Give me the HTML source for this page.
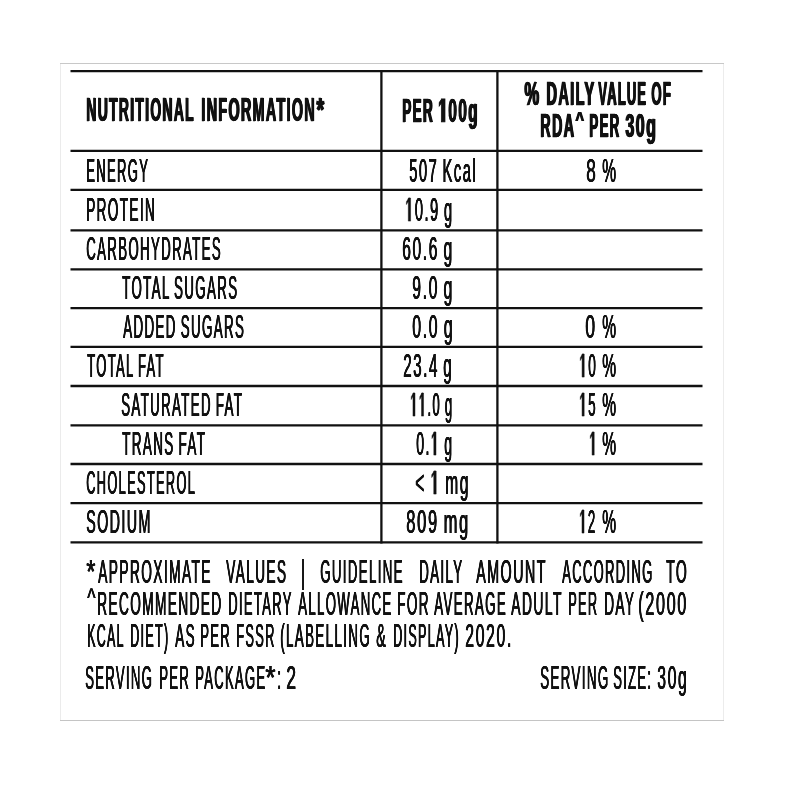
<!DOCTYPE html>
<html><head><meta charset="utf-8"><style>
html,body{margin:0;padding:0;background:#fff;width:800px;height:800px;overflow:hidden}
.t{position:absolute;white-space:pre;transform-origin:0 0;color:#111;font-family:"Liberation Sans",sans-serif}
.r{font-weight:400;text-shadow:0.37px 0 0 #111,0.73px 0 0 #111,1.10px 0 0 #111;letter-spacing:3.5px;word-spacing:-3.0px;-webkit-text-stroke:0.0px #111}
.b{font-weight:700;text-shadow:0.67px 0 0 #111,1.33px 0 0 #111,2.00px 0 0 #111;letter-spacing:3.0px;word-spacing:-2.0px;-webkit-text-stroke:0.4px #111}
.bt{position:absolute;left:60px;top:63px;width:664px;height:1px;background:#c8c8c8}
.bb{position:absolute;left:60px;top:720px;width:664px;height:1px;background:#c4c4c4}
.bl{position:absolute;left:60px;top:63px;width:1px;height:658px;background:#ebebeb}
.br{position:absolute;left:723px;top:63px;width:1px;height:658px;background:#ececec}
</style></head><body>
<div class="bl"></div><div class="br"></div><div class="bt"></div><div class="bb"></div>
<svg width="800" height="800" style="position:absolute;left:0;top:0" stroke="#111" stroke-width="2.3"><line x1="70.5" y1="71.2" x2="702.5" y2="71.2"/><line x1="70.5" y1="150.9" x2="702.5" y2="150.9"/><line x1="70.5" y1="189.9" x2="702.5" y2="189.9"/><line x1="70.5" y1="230.4" x2="702.5" y2="230.4"/><line x1="70.5" y1="269.3" x2="702.5" y2="269.3"/><line x1="70.5" y1="308.1" x2="702.5" y2="308.1"/><line x1="70.5" y1="346.9" x2="702.5" y2="346.9"/><line x1="70.5" y1="386.0" x2="702.5" y2="386.0"/><line x1="70.5" y1="425.3" x2="702.5" y2="425.3"/><line x1="70.5" y1="464.0" x2="702.5" y2="464.0"/><line x1="70.5" y1="503.1" x2="702.5" y2="503.1"/><line x1="70.5" y1="542.3" x2="702.5" y2="542.3"/><line x1="381.4" y1="70" x2="381.4" y2="543.5"/><line x1="497.4" y1="70" x2="497.4" y2="543.5"/></svg>
<div style="position:absolute;left:0;top:0;width:800px;height:800px;filter:blur(0.4px)"><div class="t b" style="left:86.23px;top:93.44px;font-size:33.0px;line-height:33.0px;transform:scaleX(0.4230)">NUTRITIONAL</div><div class="t b" style="left:201.00px;top:93.44px;font-size:33.0px;line-height:33.0px;transform:scaleX(0.4354)">INFORMATION</div><div class="t b" style="left:316.40px;top:93.44px;font-size:33.0px;line-height:33.0px;transform:scaleX(0.5887)">*</div><div class="t b" style="left:402.05px;top:93.74px;font-size:33.0px;line-height:33.0px;transform:scaleX(0.4111)">PER</div><div class="t b" style="left:437.54px;top:93.74px;font-size:33.0px;line-height:33.0px;transform:scaleX(0.4655)"><svg viewBox="0 -1409 1139 1409" style="display:inline-block;width:0.5562em;height:0.6880em;vertical-align:baseline;margin-right:3.0px;overflow:visible"><path d="M428,0 L428,-1409 L943,-1409 L943,0 Z M478,-1170 L140,-959 L140,-1180 L493,-1409 L759,-1409 Z" fill="#111" stroke="#111" stroke-width="65"/></svg>00g</div><div class="t b" style="left:524.48px;top:77.24px;font-size:33.0px;line-height:33.0px;transform:scaleX(0.5016)">%</div><div class="t b" style="left:545.99px;top:77.24px;font-size:33.0px;line-height:33.0px;transform:scaleX(0.4429)">DAILY</div><div class="t b" style="left:598.10px;top:77.24px;font-size:33.0px;line-height:33.0px;transform:scaleX(0.3924)">VALUE</div><div class="t b" style="left:651.49px;top:77.24px;font-size:33.0px;line-height:33.0px;transform:scaleX(0.3992)">OF</div><div class="t b" style="left:539.70px;top:109.24px;font-size:33.0px;line-height:33.0px;transform:scaleX(0.4344)">RDA</div><div class="t b" style="left:574.54px;top:108.79px;font-size:33.0px;line-height:33.0px;transform:scale(0.4466,0.6216)">^</div><div class="t b" style="left:588.91px;top:109.24px;font-size:33.0px;line-height:33.0px;transform:scaleX(0.4050)">PER</div><div class="t b" style="left:624.50px;top:109.24px;font-size:33.0px;line-height:33.0px;transform:scaleX(0.4848)">30g</div><div class="t r" style="left:85.78px;top:154.15px;font-size:33.6px;line-height:33.6px;transform:scaleX(0.3873)">ENERGY</div><div class="t r" style="left:408.74px;top:154.15px;font-size:33.6px;line-height:33.6px;transform:scaleX(0.4365)">507 Kcal</div><div class="t r" style="left:585.66px;top:154.15px;font-size:33.6px;line-height:33.6px;transform:scaleX(0.5098)">8</div><div class="t r" style="left:601.71px;top:154.15px;font-size:33.6px;line-height:33.6px;transform:scaleX(0.4621)">%</div><div class="t r" style="left:85.73px;top:193.17px;font-size:33.6px;line-height:33.6px;transform:scaleX(0.4028)">PROTEIN</div><div class="t r" style="left:404.83px;top:193.17px;font-size:33.6px;line-height:33.6px;transform:scaleX(0.4343)"><svg viewBox="0 -1409 1139 1409" style="display:inline-block;width:0.5562em;height:0.6880em;vertical-align:baseline;margin-right:3.5px;overflow:visible"><path d="M465,0 L465,-1409 L783,-1409 L783,0 Z M515,-1237 L197,-1010 L197,-1180 L530,-1409 L696,-1409 Z" fill="#111" stroke="#111" stroke-width="40"/></svg>0.9 g</div><div class="t r" style="left:86.17px;top:232.19px;font-size:33.6px;line-height:33.6px;transform:scaleX(0.3934)">CARBOHYDRATES</div><div class="t r" style="left:401.73px;top:232.19px;font-size:33.6px;line-height:33.6px;transform:scaleX(0.4630)">60.6 g</div><div class="t r" style="left:122.08px;top:271.21px;font-size:33.6px;line-height:33.6px;transform:scaleX(0.3954)">TOTAL SUGARS</div><div class="t r" style="left:412.01px;top:271.21px;font-size:33.6px;line-height:33.6px;transform:scaleX(0.4679)">9.0 g</div><div class="t r" style="left:122.50px;top:310.23px;font-size:33.6px;line-height:33.6px;transform:scaleX(0.3968)">ADDED SUGARS</div><div class="t r" style="left:411.70px;top:310.23px;font-size:33.6px;line-height:33.6px;transform:scaleX(0.4714)">0.0 g</div><div class="t r" style="left:585.45px;top:310.23px;font-size:33.6px;line-height:33.6px;transform:scaleX(0.5210)">0</div><div class="t r" style="left:601.71px;top:310.23px;font-size:33.6px;line-height:33.6px;transform:scaleX(0.4621)">%</div><div class="t r" style="left:86.59px;top:349.25px;font-size:33.6px;line-height:33.6px;transform:scaleX(0.3867)">TOTAL FAT</div><div class="t r" style="left:403.26px;top:349.25px;font-size:33.6px;line-height:33.6px;transform:scaleX(0.4488)">23.4 g</div><div class="t r" style="left:578.62px;top:349.25px;font-size:33.6px;line-height:33.6px;transform:scaleX(0.4048)"><svg viewBox="0 -1409 1139 1409" style="display:inline-block;width:0.5562em;height:0.6880em;vertical-align:baseline;margin-right:3.5px;overflow:visible"><path d="M465,0 L465,-1409 L783,-1409 L783,0 Z M515,-1237 L197,-1010 L197,-1180 L530,-1409 L696,-1409 Z" fill="#111" stroke="#111" stroke-width="40"/></svg>0</div><div class="t r" style="left:601.71px;top:349.25px;font-size:33.6px;line-height:33.6px;transform:scaleX(0.4621)">%</div><div class="t r" style="left:121.17px;top:388.27px;font-size:33.6px;line-height:33.6px;transform:scaleX(0.3947)">SATURATED FAT</div><div class="t r" style="left:409.78px;top:388.27px;font-size:33.6px;line-height:33.6px;transform:scaleX(0.3886)"><svg viewBox="0 -1409 1139 1409" style="display:inline-block;width:0.5562em;height:0.6880em;vertical-align:baseline;margin-right:3.5px;overflow:visible"><path d="M465,0 L465,-1409 L783,-1409 L783,0 Z M515,-1237 L197,-1010 L197,-1180 L530,-1409 L696,-1409 Z" fill="#111" stroke="#111" stroke-width="40"/></svg><svg viewBox="0 -1409 1139 1409" style="display:inline-block;width:0.5562em;height:0.6880em;vertical-align:baseline;margin-right:3.5px;overflow:visible"><path d="M465,0 L465,-1409 L783,-1409 L783,0 Z M515,-1237 L197,-1010 L197,-1180 L530,-1409 L696,-1409 Z" fill="#111" stroke="#111" stroke-width="40"/></svg>.0 g</div><div class="t r" style="left:578.73px;top:388.27px;font-size:33.6px;line-height:33.6px;transform:scaleX(0.4021)"><svg viewBox="0 -1409 1139 1409" style="display:inline-block;width:0.5562em;height:0.6880em;vertical-align:baseline;margin-right:3.5px;overflow:visible"><path d="M465,0 L465,-1409 L783,-1409 L783,0 Z M515,-1237 L197,-1010 L197,-1180 L530,-1409 L696,-1409 Z" fill="#111" stroke="#111" stroke-width="40"/></svg>5</div><div class="t r" style="left:601.71px;top:388.27px;font-size:33.6px;line-height:33.6px;transform:scaleX(0.4621)">%</div><div class="t r" style="left:121.58px;top:427.29px;font-size:33.6px;line-height:33.6px;transform:scaleX(0.3992)">TRANS FAT</div><div class="t r" style="left:416.26px;top:427.29px;font-size:33.6px;line-height:33.6px;transform:scaleX(0.4179)">0.<svg viewBox="0 -1409 1139 1409" style="display:inline-block;width:0.5562em;height:0.6880em;vertical-align:baseline;margin-right:3.5px;overflow:visible"><path d="M465,0 L465,-1409 L783,-1409 L783,0 Z M515,-1237 L197,-1010 L197,-1180 L530,-1409 L696,-1409 Z" fill="#111" stroke="#111" stroke-width="40"/></svg> g</div><div class="t r" style="left:589.26px;top:427.29px;font-size:33.6px;line-height:33.6px;transform:scaleX(0.4041)"><svg viewBox="0 -1409 1139 1409" style="display:inline-block;width:0.5562em;height:0.6880em;vertical-align:baseline;margin-right:3.5px;overflow:visible"><path d="M465,0 L465,-1409 L783,-1409 L783,0 Z M515,-1237 L197,-1010 L197,-1180 L530,-1409 L696,-1409 Z" fill="#111" stroke="#111" stroke-width="40"/></svg></div><div class="t r" style="left:601.71px;top:427.29px;font-size:33.6px;line-height:33.6px;transform:scaleX(0.4621)">%</div><div class="t r" style="left:86.20px;top:466.31px;font-size:33.6px;line-height:33.6px;transform:scaleX(0.3813)">CHOLESTEROL</div><div class="t r" style="left:415.23px;top:466.31px;font-size:33.6px;line-height:33.6px;transform:scaleX(0.4619)">&lt; <svg viewBox="0 -1409 1139 1409" style="display:inline-block;width:0.5562em;height:0.6880em;vertical-align:baseline;margin-right:3.5px;overflow:visible"><path d="M465,0 L465,-1409 L783,-1409 L783,0 Z M515,-1237 L197,-1010 L197,-1180 L530,-1409 L696,-1409 Z" fill="#111" stroke="#111" stroke-width="40"/></svg> mg</div><div class="t r" style="left:86.11px;top:505.33px;font-size:33.6px;line-height:33.6px;transform:scaleX(0.4225)">SODIUM</div><div class="t r" style="left:406.39px;top:505.33px;font-size:33.6px;line-height:33.6px;transform:scaleX(0.4898)">809 mg</div><div class="t r" style="left:579.27px;top:505.33px;font-size:33.6px;line-height:33.6px;transform:scaleX(0.3915)"><svg viewBox="0 -1409 1139 1409" style="display:inline-block;width:0.5562em;height:0.6880em;vertical-align:baseline;margin-right:3.5px;overflow:visible"><path d="M465,0 L465,-1409 L783,-1409 L783,0 Z M515,-1237 L197,-1010 L197,-1180 L530,-1409 L696,-1409 Z" fill="#111" stroke="#111" stroke-width="40"/></svg>2</div><div class="t r" style="left:601.71px;top:505.33px;font-size:33.6px;line-height:33.6px;transform:scaleX(0.4621)">%</div><div class="t r" style="left:86.18px;top:554.65px;font-size:33.6px;line-height:33.6px;transform:scaleX(0.6905)">*</div><div class="t r" style="left:97.50px;top:554.65px;font-size:33.6px;line-height:33.6px;transform:scaleX(0.4080)">APPROXIMATE</div><div class="t r" style="left:225.60px;top:554.65px;font-size:33.6px;line-height:33.6px;transform:scaleX(0.4053)">VALUES</div><div class="t r" style="left:300.83px;top:554.65px;font-size:33.6px;line-height:33.6px;transform:scaleX(0.4041)">|</div><div class="t r" style="left:320.42px;top:554.65px;font-size:33.6px;line-height:33.6px;transform:scaleX(0.3937)">GUIDELINE</div><div class="t r" style="left:418.76px;top:554.65px;font-size:33.6px;line-height:33.6px;transform:scaleX(0.3951)">DAILY</div><div class="t r" style="left:476.25px;top:554.65px;font-size:33.6px;line-height:33.6px;transform:scaleX(0.4246)">AMOUNT</div><div class="t r" style="left:561.90px;top:554.65px;font-size:33.6px;line-height:33.6px;transform:scaleX(0.3861)">ACCORDING</div><div class="t r" style="left:666.47px;top:554.65px;font-size:33.6px;line-height:33.6px;transform:scaleX(0.4141)">TO</div><div class="t r" style="left:87.25px;top:585.77px;font-size:33.6px;line-height:33.6px;transform:scale(0.5208,0.7582)">^</div><div class="t r" style="left:96.82px;top:586.95px;font-size:33.6px;line-height:33.6px;transform:scaleX(0.4058)">RECOMMENDED</div><div class="t r" style="left:228.18px;top:586.95px;font-size:33.6px;line-height:33.6px;transform:scaleX(0.3865)">DIETARY</div><div class="t r" style="left:297.50px;top:586.95px;font-size:33.6px;line-height:33.6px;transform:scaleX(0.3916)">ALLOWANCE</div><div class="t r" style="left:396.83px;top:586.95px;font-size:33.6px;line-height:33.6px;transform:scaleX(0.4024)">FOR</div><div class="t r" style="left:433.75px;top:586.95px;font-size:33.6px;line-height:33.6px;transform:scaleX(0.3955)">AVERAGE</div><div class="t r" style="left:511.25px;top:586.95px;font-size:33.6px;line-height:33.6px;transform:scaleX(0.4131)">ADULT</div><div class="t r" style="left:568.30px;top:586.95px;font-size:33.6px;line-height:33.6px;transform:scaleX(0.3796)">PER</div><div class="t r" style="left:604.33px;top:586.95px;font-size:33.6px;line-height:33.6px;transform:scaleX(0.4034)">DAY</div><div class="t r" style="left:638.39px;top:586.95px;font-size:33.6px;line-height:33.6px;transform:scaleX(0.4813)">(2000</div><div class="t r" style="left:86.58px;top:618.95px;font-size:33.6px;line-height:33.6px;transform:scaleX(0.3700)">KCAL</div><div class="t r" style="left:130.07px;top:618.95px;font-size:33.6px;line-height:33.6px;transform:scaleX(0.3734)">DIET)</div><div class="t r" style="left:175.00px;top:618.95px;font-size:33.6px;line-height:33.6px;transform:scaleX(0.4017)">AS</div><div class="t r" style="left:200.03px;top:618.95px;font-size:33.6px;line-height:33.6px;transform:scaleX(0.3885)">PER</div><div class="t r" style="left:235.70px;top:618.95px;font-size:33.6px;line-height:33.6px;transform:scaleX(0.3815)">FSSR</div><div class="t r" style="left:280.42px;top:618.95px;font-size:33.6px;line-height:33.6px;transform:scaleX(0.3968)">(LABELLING</div><div class="t r" style="left:375.80px;top:618.95px;font-size:33.6px;line-height:33.6px;transform:scaleX(0.4240)">&amp;</div><div class="t r" style="left:392.57px;top:618.95px;font-size:33.6px;line-height:33.6px;transform:scaleX(0.3737)">DISPLAY)</div><div class="t r" style="left:465.26px;top:618.95px;font-size:33.6px;line-height:33.6px;transform:scaleX(0.4693)">2020.</div><div class="t r" style="left:85.43px;top:661.35px;font-size:33.6px;line-height:33.6px;transform:scaleX(0.3883)">SERVING</div><div class="t r" style="left:158.77px;top:661.35px;font-size:33.6px;line-height:33.6px;transform:scaleX(0.3892)">PER</div><div class="t r" style="left:195.28px;top:661.35px;font-size:33.6px;line-height:33.6px;transform:scaleX(0.3866)">PACKAGE</div><div class="t r" style="left:265.38px;top:661.35px;font-size:33.6px;line-height:33.6px;transform:scaleX(0.7778)">*</div><div class="t r" style="left:277.23px;top:661.35px;font-size:33.6px;line-height:33.6px;transform:scaleX(0.4041)">:</div><div class="t r" style="left:286.11px;top:661.35px;font-size:33.6px;line-height:33.6px;transform:scaleX(0.5206)">2</div><div class="t r" style="left:539.67px;top:661.35px;font-size:33.6px;line-height:33.6px;transform:scaleX(0.3963)">SERVING</div><div class="t r" style="left:612.99px;top:661.35px;font-size:33.6px;line-height:33.6px;transform:scaleX(0.3857)">SIZE</div><div class="t r" style="left:647.38px;top:661.35px;font-size:33.6px;line-height:33.6px;transform:scaleX(0.4041)">:</div><div class="t r" style="left:656.51px;top:661.35px;font-size:33.6px;line-height:33.6px;transform:scaleX(0.4681)">30g</div></div>
</body></html>
